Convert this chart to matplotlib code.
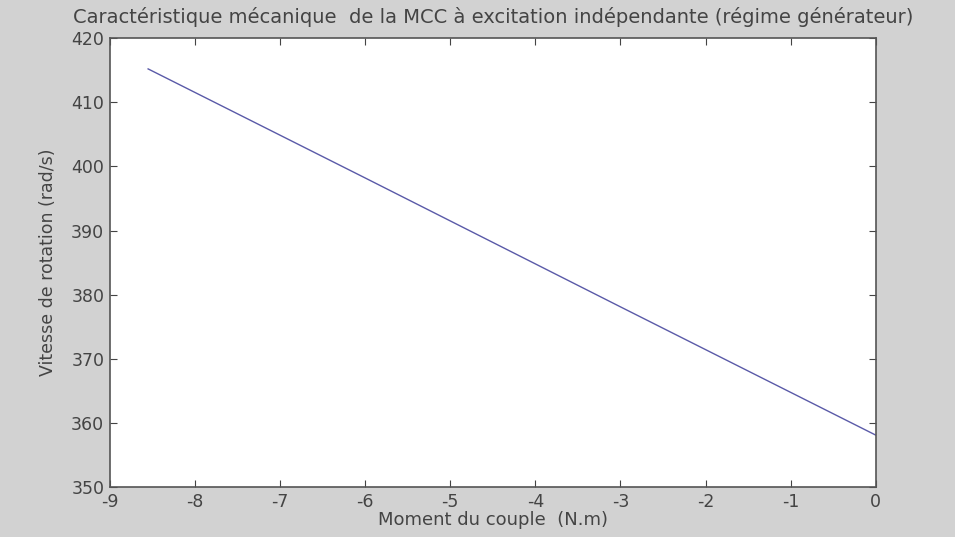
import matplotlib
matplotlib.use('Agg')
import matplotlib.pyplot as plt

plt.rcParams['font.family'] = ['DejaVu Sans']
plt.rcParams['axes.unicode_minus'] = False

# donnees
couple = [-8.55, -6.0, -3.0, 0.0]
vitesse = [415.2, 398.2, 378.1, 358.1]
xticks = [-9, -8, -7, -6, -5, -4, -3, -2, -1, 0]
yticks = [350, 360, 370, 380, 390, 400, 410, 420]

fig = plt.figure(figsize=(9.55, 5.37), dpi=100, facecolor='#d2d2d2')
ax = fig.add_axes([0.115, 0.093, 0.802, 0.836])
ax.plot(couple, vitesse, color='#5a5aa8', linewidth=1)

ax.set_xlim(-9, 0)
ax.set_ylim(350, 420)
ax.set_xticks(xticks)
ax.set_yticks(yticks)
ax.tick_params(direction='in', top=True, right=True, labelsize=12.5, colors='#444444',
               length=5, pad=4)
for s in ax.spines.values():
    s.set_color('#555555')
    s.set_linewidth(1.2)

ax.set_title("Caractéristique mécanique  de la MCC à excitation indépendante (régime générateur)",
             fontsize=14, color='#444444', pad=11)
ax.set_xlabel("Moment du couple  (N.m)", fontsize=13, color='#444444', labelpad=0)
ax.set_ylabel("Vitesse de rotation (rad/s)", fontsize=12.5, color='#444444', labelpad=10)

fig.savefig('out.png', dpi=100, facecolor=fig.get_facecolor())
